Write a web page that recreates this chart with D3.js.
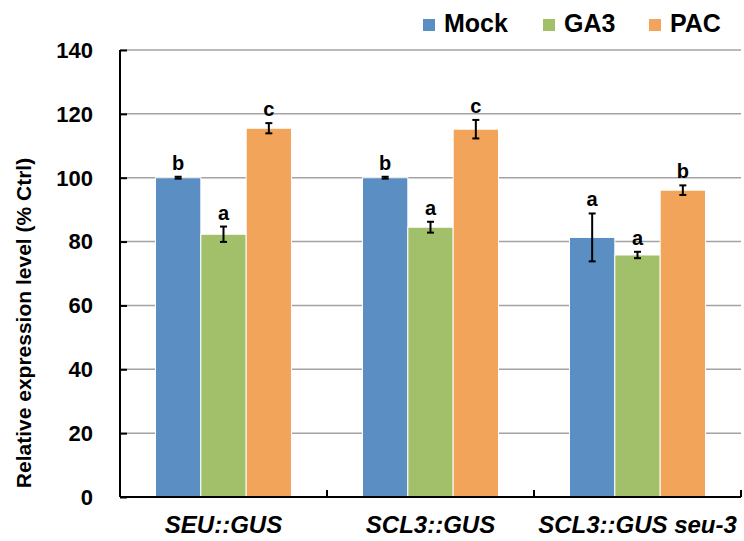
<!DOCTYPE html>
<html lang="en">
  <head>
    <meta charset="UTF-8" />
    <title>Relative expression level</title>
    <script src="https://d3js.org/d3.v7.min.js"></script>
    <style>
      body {
        margin: 0;
        background: #fff;
        font-family: "Liberation Sans", Arial, sans-serif;
      }
      svg {
        display: block;
      }
    </style>
  </head>
  <body>
    <svg id="chart" width="744" height="541"></svg>

    <script>
      // data
      const categories = ["SEU::GUS", "SCL3::GUS", "SCL3::GUS seu-3"];
      const seriesNames = ["Mock", "GA3", "PAC"];
      const mockValues = [100, 100, 81.3];
      const mockErrors = [0.3, 0.3, 7.5];
      const ga3Values = [82.3, 84.5, 75.8];
      const ga3Errors = [2.4, 1.7, 1.0];
      const pacValues = [115.5, 115.2, 96.1];
      const pacErrors = [1.6, 2.9, 1.5];
      const mockLetters = ["b", "b", "a"];
      const ga3Letters = ["a", "a", "a"];
      const pacLetters = ["c", "c", "b"];
      const yTicks = [0, 20, 40, 60, 80, 100, 120, 140];

      const colors = ["#5b8ec2", "#a2bf6a", "#f2a45a"];

      const rows = [];
      categories.forEach((cat, i) => {
        rows.push({ cat, series: "Mock", value: mockValues[i], err: mockErrors[i], letter: mockLetters[i] });
        rows.push({ cat, series: "GA3", value: ga3Values[i], err: ga3Errors[i], letter: ga3Letters[i] });
        rows.push({ cat, series: "PAC", value: pacValues[i], err: pacErrors[i], letter: pacLetters[i] });
      });

      const margin = { top: 50, right: 3, bottom: 44, left: 120 };
      const width = 744 - margin.left - margin.right;
      const height = 541 - margin.top - margin.bottom;

      const svg = d3.select("#chart");
      const g = svg
        .append("g")
        .attr("transform", `translate(${margin.left}, ${margin.top})`);

      const x0 = d3
        .scaleBand()
        .domain(categories)
        .range([0, width])
        .paddingInner(0.343)
        .paddingOuter(0.1715);
      const x1 = d3.scaleBand().domain(seriesNames).range([0, x0.bandwidth()]);
      const y = d3.scaleLinear().domain([0, 140]).range([height, 0]);
      const color = d3.scaleOrdinal().domain(seriesNames).range(colors);

      // gridlines
      g.append("g")
        .selectAll("line")
        .data(yTicks.slice(1))
        .enter()
        .append("line")
        .attr("x1", 0)
        .attr("x2", width)
        .attr("y1", (d) => y(d))
        .attr("y2", (d) => y(d))
        .attr("stroke", "#a3a3a3")
        .attr("stroke-width", 1.5);

      // bars
      g.append("g")
        .selectAll("rect")
        .data(rows)
        .enter()
        .append("rect")
        .attr("x", (d) => x0(d.cat) + x1(d.series))
        .attr("y", (d) => y(d.value))
        .attr("width", x1.bandwidth())
        .attr("height", (d) => height - y(d.value))
        .attr("fill", (d) => color(d.series))
        .attr("stroke", "#fff")
        .attr("stroke-width", 1);

      // error bars
      const errG = g.append("g").attr("stroke", "#000").attr("stroke-width", 2);
      rows.forEach((d) => {
        const cx = x0(d.cat) + x1(d.series) + x1.bandwidth() / 2;
        const top = y(d.value + d.err);
        const bot = y(d.value - d.err);
        errG.append("line").attr("x1", cx).attr("x2", cx).attr("y1", top).attr("y2", bot);
        errG.append("line").attr("x1", cx - 3.5).attr("x2", cx + 3.5).attr("y1", top).attr("y2", top);
        errG.append("line").attr("x1", cx - 3.5).attr("x2", cx + 3.5).attr("y1", bot).attr("y2", bot);
      });

      // significance letters
      g.append("g")
        .selectAll("text")
        .data(rows)
        .enter()
        .append("text")
        .attr("x", (d) => x0(d.cat) + x1(d.series) + x1.bandwidth() / 2)
        .attr("y", (d) => y(d.value + d.err) - 7)
        .attr("text-anchor", "middle")
        .style("font-size", "20px")
        .style("font-weight", "bold")
        .text((d) => d.letter);

      // y axis
      const yAxis = g
        .append("g")
        .call(d3.axisRight(y).tickValues(yTicks).tickSize(7).tickFormat(""));
      yAxis.select(".domain").attr("stroke", "#000").attr("stroke-width", 2).attr("d", `M0,0V${height}`);
      yAxis.selectAll(".tick line").attr("stroke", "#000").attr("stroke-width", 2);

      g.append("g")
        .selectAll("text")
        .data(yTicks)
        .enter()
        .append("text")
        .attr("x", -27)
        .attr("y", (d) => y(d))
        .attr("dy", "0.36em")
        .attr("text-anchor", "end")
        .style("font-size", "22px")
        .style("font-weight", "bold")
        .text((d) => d);

      // x axis with category separators
      const sep = [0, x0.step(), 2 * x0.step(), 3 * x0.step()];
      g.append("line")
        .attr("x1", 0)
        .attr("x2", width)
        .attr("y1", height)
        .attr("y2", height)
        .attr("stroke", "#000")
        .attr("stroke-width", 2);
      g.append("g")
        .selectAll("line")
        .data(sep.slice(1))
        .enter()
        .append("line")
        .attr("x1", (d) => d)
        .attr("x2", (d) => d)
        .attr("y1", height)
        .attr("y2", height - 7)
        .attr("stroke", "#000")
        .attr("stroke-width", 2);

      g.append("g")
        .selectAll("text")
        .data(categories)
        .enter()
        .append("text")
        .attr("x", (d) => x0(d) + x0.bandwidth() / 2)
        .attr("y", height + 36)
        .attr("text-anchor", "middle")
        .style("font-size", "24px")
        .style("font-weight", "bold")
        .style("font-style", "italic")
        .text((d) => d);

      // y axis title
      svg
        .append("text")
        .attr("transform", "translate(31, 323) rotate(-90)")
        .attr("text-anchor", "middle")
        .style("font-size", "21px")
        .style("font-weight", "bold")
        .text("Relative expression level (% Ctrl)");

      // legend
      const legendX = [423, 543, 649];
      const legend = svg.append("g");
      seriesNames.forEach((name, i) => {
        legend
          .append("rect")
          .attr("x", legendX[i])
          .attr("y", 19)
          .attr("width", 12)
          .attr("height", 12)
          .attr("fill", colors[i]);
        legend
          .append("text")
          .attr("x", legendX[i] + 21)
          .attr("y", 32)
          .style("font-size", "25px")
          .style("font-weight", "bold")
          .text(name);
      });
    </script>
  </body>
</html>
